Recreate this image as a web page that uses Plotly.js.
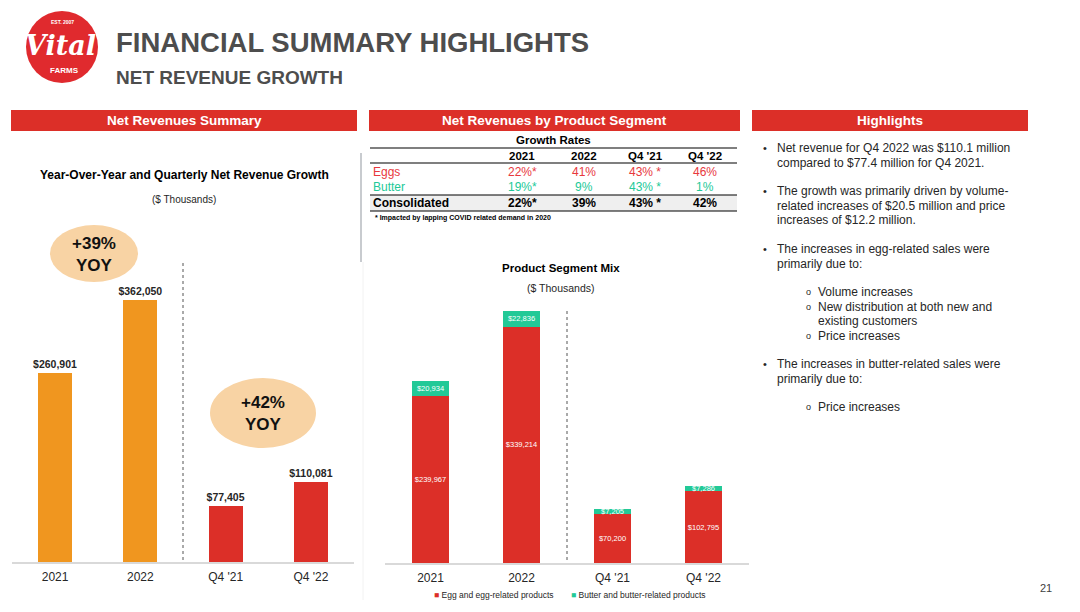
<!DOCTYPE html>
<html>
<head>
<meta charset="utf-8">
<script src="https://cdn.plot.ly/plotly-3.0.1.min.js"></script>
<style>html,body{margin:0;padding:0;background:#fff;}#chart{width:1080px;height:612px;}</style>
</head>
<body>
<div id="chart"></div>
<script>
// ---------- DATA ----------
const periods = ["2021", "2022", "Q4 '21", "Q4 '22"];
const netRevenue = [260901, 362050, 77405, 110081];
const eggRevenue = [239967, 339214, 70200, 102795];
const butterRevenue = [20934, 22836, 7205, 7286];
const growthLabels = ["+39%<br>YOY", "+42%<br>YOY"];
const seriesNames = ["Egg and egg-related products", "Butter and butter-related products"];

const tableColumns = ["2021", "2022", "Q4 '21", "Q4 '22"];
const tableRows = ["Eggs", "Butter", "Consolidated"];
const eggsGrowth = ["22%*", "41%", "43% *", "46%"];
const butterGrowth = ["19%*", "9%", "43% *", "1%"];
const consolidatedGrowth = ["22%*", "39%", "43% *", "42%"];

const highlights = [
  {lvl: 0, lines: ["Net revenue for Q4 2022 was $110.1 million", "compared to $77.4 million for Q4 2021."], y: 148},
  {lvl: 0, lines: ["The growth was primarily driven by volume-", "related increases of $20.5 million and price", "increases of $12.2 million."], y: 191},
  {lvl: 0, lines: ["The increases in egg-related sales were", "primarily due to:"], y: 249},
  {lvl: 1, lines: ["Volume increases"], y: 292},
  {lvl: 1, lines: ["New distribution at both new and", "existing customers"], y: 306.5},
  {lvl: 1, lines: ["Price increases"], y: 336},
  {lvl: 0, lines: ["The increases in butter-related sales were", "primarily due to:"], y: 364},
  {lvl: 1, lines: ["Price increases"], y: 407}
];

// ---------- STYLE ----------
const W = 1080, H = 612;
const X = p => p / W;
const Y = p => 1 - p / H;
const FONT = "Arial, 'Liberation Sans', sans-serif";
const RED = "#DC2F28", ORANGE = "#F0961F", TEAL = "#22C997", PEACH = "#F8D3A4";
const TXT = "#262626";

const fmt = v => "$" + v.toLocaleString("en-US");

const shapes = [];
const annotations = [];
function txt(px, py, text, size, color, opts) {
  annotations.push(Object.assign({
    xref: "paper", yref: "paper", x: X(px), y: Y(py), text: text, showarrow: false,
    xanchor: "center", yanchor: "middle", borderpad: 0,
    font: {size: size, color: color, family: FONT}
  }, opts || {}));
}

const traces = [
  {
    type: "bar", x: periods, y: netRevenue, xaxis: "x", yaxis: "y",
    marker: {color: [ORANGE, ORANGE, RED, RED]}, width: 0.4,
    text: netRevenue.map(v => "<b>" + fmt(v) + "</b>"), textposition: "outside", constraintext: "none", textangle: 0,
    textfont: {size: 10.5, color: TXT, family: FONT}, cliponaxis: false,
    showlegend: false, hoverinfo: "skip"
  },
  {
    type: "bar", name: seriesNames[0], x: periods, y: eggRevenue, xaxis: "x2", yaxis: "y2",
    marker: {color: RED}, width: 0.4,
    text: eggRevenue.map(fmt), textposition: "inside", insidetextanchor: "middle", constraintext: "none", textangle: 0,
    textfont: {size: 7.5, color: "#FFFFFF", family: FONT}, cliponaxis: false, hoverinfo: "skip", showlegend: false
  },
  {
    type: "bar", name: seriesNames[1], x: periods, y: butterRevenue, xaxis: "x2", yaxis: "y2",
    marker: {color: TEAL}, width: 0.4,
    text: butterRevenue.map(fmt), textposition: "inside", insidetextanchor: "middle", constraintext: "none", textangle: 0,
    textfont: {size: 7.5, color: "#FFFFFF", family: FONT}, cliponaxis: false, hoverinfo: "skip", showlegend: false
  }
];

// logo
shapes.push({type: "circle", xref: "paper", yref: "paper", x0: X(26), x1: X(98), y0: Y(83), y1: Y(11), fillcolor: "#E02A2E", line: {width: 0}});
txt(62, 22, "<b>EST. 2007</b>", 5, "#fff");
txt(60, 46, "<b><i>Vital</i></b>", 27, "#fff", {font: {size: 27, color: "#fff", family: "'DejaVu Serif', serif"}});
txt(64, 70, "<b>FARMS</b>", 8, "#fff");

// titles
txt(115, 43, "<b>FINANCIAL SUMMARY HIGHLIGHTS</b>", 27.5, "#4D4D4D", {xanchor: "left"});
txt(115, 77, "<b>NET REVENUE GROWTH</b>", 19, "#4D4D4D", {xanchor: "left"});

// header bars
const headers = [["Net Revenues Summary", 11, 357], ["Net Revenues by Product Segment", 369, 740], ["Highlights", 752, 1028]];
headers.forEach(h => {
  shapes.push({type: "rect", xref: "paper", yref: "paper", x0: X(h[1]), x1: X(h[2]), y0: Y(131), y1: Y(110), fillcolor: RED, line: {width: 0}});
  txt((h[1] + h[2]) / 2, 120.5, "<b>" + h[0] + "</b>", 13.5, "#fff");
});

// divider
shapes.push({type: "line", xref: "paper", yref: "paper", x0: X(361), x1: X(361), y0: Y(153), y1: Y(262), line: {color: "#C8CBCF", width: 2}});
shapes.push({type: "line", xref: "paper", yref: "paper", x0: X(363), x1: X(363), y0: Y(262), y1: Y(600), line: {color: "#F2F2F2", width: 1}});

// left chart titles
txt(184, 175, "<b>Year-Over-Year and Quarterly Net Revenue Growth</b>", 12, "#000");
txt(184, 200, "($ Thousands)", 10, TXT);

// growth ellipses
shapes.push({type: "circle", xref: "paper", yref: "paper", x0: X(50), x1: X(138), y0: Y(282), y1: Y(225), fillcolor: PEACH, line: {width: 0}});
txt(94, 254, "<b>" + growthLabels[0] + "</b>", 17, "#111");
shapes.push({type: "circle", xref: "paper", yref: "paper", x0: X(210), x1: X(316), y0: Y(448), y1: Y(378), fillcolor: PEACH, line: {width: 0}});
txt(263, 413, "<b>" + growthLabels[1] + "</b>", 17, "#111");

// dotted separators
shapes.push({type: "line", xref: "x", yref: "paper", x0: 1.5, x1: 1.5, y0: Y(560), y1: Y(262), line: {color: "#555", width: 1, dash: "dot"}});
shapes.push({type: "line", xref: "x2", yref: "paper", x0: 1.5, x1: 1.5, y0: Y(560), y1: Y(310), line: {color: "#555", width: 1, dash: "dot"}});

// growth table
txt(553, 140, "<b>Growth Rates</b>", 11.5, "#000");
shapes.push({type: "rect", xref: "paper", yref: "paper", x0: X(370), x1: X(737), y0: Y(211), y1: Y(195), fillcolor: "#EFEFEF", line: {width: 0}});
[148, 163, 195, 211].forEach(py => shapes.push({type: "line", xref: "paper", yref: "paper", x0: X(370), x1: X(737), y0: Y(py), y1: Y(py), line: {color: "#000", width: 1.2}}));
const colX = [522, 584, 645, 705];
const rowY = [172, 187, 203];
const rowColors = ["#E8383D", TEAL, "#000"];
const rowData = [eggsGrowth, butterGrowth, consolidatedGrowth];
tableColumns.forEach((c, j) => txt(colX[j], 156, "<b>" + c + "</b>", 11.5, "#000"));
tableRows.forEach((r, i) => {
  const b = i === 2;
  txt(372, rowY[i], b ? "<b>" + r + "</b>" : r, 12, rowColors[i], {xanchor: "left"});
  rowData[i].forEach((v, j) => txt(colX[j], rowY[i], b ? "<b>" + v + "</b>" : v, 12, rowColors[i]));
});
txt(374, 218, "<b>* Impacted by lapping COVID related demand in 2020</b>", 7, "#000", {xanchor: "left"});

// mid chart titles
txt(561, 268, "<b>Product Segment Mix</b>", 11.5, "#000");
txt(561, 288, "($ Thousands)", 10.5, TXT);

// legend (manual)
txt(433, 595, "<span style='color:" + RED + "'>■</span> " + seriesNames[0], 8.5, TXT, {xanchor: "left"});
txt(570, 595, "<span style='color:" + TEAL + "'>■</span> " + seriesNames[1], 8.5, TXT, {xanchor: "left"});

// highlights
highlights.forEach(h => {
  const bx = h.lvl === 0 ? 765 : 808, tx = h.lvl === 0 ? 776 : 817;
  txt(bx, h.y, h.lvl === 0 ? "•" : "o", h.lvl === 0 ? 11 : 9, TXT);
  h.lines.forEach((ln, k) => txt(tx, h.y + k * 14.6, ln, 12, TXT, {xanchor: "left"}));
});

// page number
txt(1046, 588, "21", 11, "#404040");

const axisX = {type: "category", categoryorder: "array", categoryarray: periods, showline: true, linecolor: "#D9D9D9", linewidth: 2, ticks: "", showgrid: false, zeroline: false, tickfont: {size: 12, color: TXT, family: FONT}, ticklabelstandoff: 3, fixedrange: true};

const layout = {
  width: W, height: H, margin: {l: 0, r: 0, t: 0, b: 0},
  paper_bgcolor: "#fff", plot_bgcolor: "rgba(0,0,0,0)",
  font: {family: FONT, color: TXT},
  barmode: "stack",
  xaxis: Object.assign({}, axisX, {domain: [X(12.4), X(353.6)], anchor: "y"}),
  yaxis: {domain: [Y(562), Y(262)], range: [0, 414500], visible: false, fixedrange: true},
  xaxis2: Object.assign({}, axisX, {domain: [X(385), X(749)], anchor: "y2"}),
  yaxis2: {domain: [Y(563), Y(263)], range: [0, 430400], visible: false, fixedrange: true},
  showlegend: false,
  shapes: shapes,
  annotations: annotations
};

Plotly.newPlot("chart", traces, layout, {displayModeBar: false, staticPlot: true});
</script>
</body>
</html>
